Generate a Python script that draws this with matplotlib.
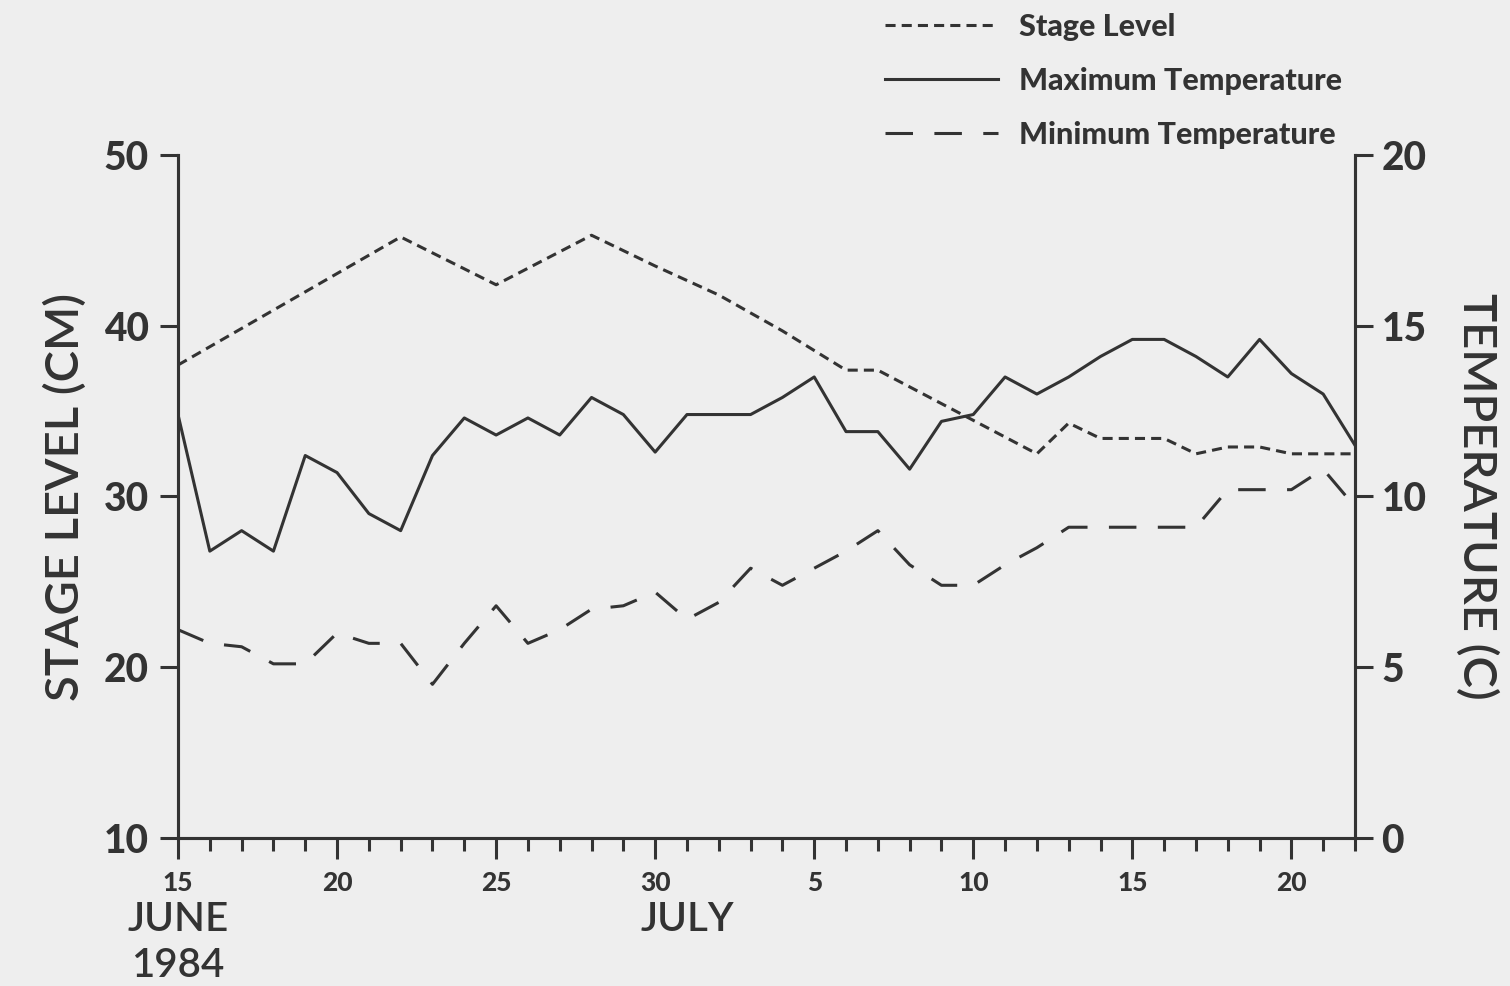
import numpy as np
import matplotlib
matplotlib.use("Agg")
import matplotlib.pyplot as plt
from matplotlib.ticker import MultipleLocator, FixedLocator

# days counted from 15 June 1984 (0) to 22 July 1984 (37)
days = np.arange(38)

# stage level readings (cm), taken on the days listed
stage_days = [0, 7, 10, 13, 15, 17, 19, 21, 22, 27, 28, 29, 31, 32, 33, 34, 35, 37]
stage_cm = [37.7, 45.2, 42.4, 45.3, 43.5, 41.8, 39.7, 37.4, 37.4, 32.5, 34.3,
            33.4, 33.4, 32.5, 32.9, 32.9, 32.5, 32.5]

# daily air temperatures (C)
max_temp = [12.4, 8.4, 9.0, 8.4, 11.2, 10.7, 9.5, 9.0, 11.2, 12.3, 11.8, 12.3, 11.8,
            12.9, 12.4, 11.3, 12.4, 12.4, 12.4, 12.9, 13.5, 11.9, 11.9, 10.8, 12.2,
            12.4, 13.5, 13.0, 13.5, 14.1, 14.6, 14.6, 14.1, 13.5, 14.6, 13.6, 13.0, 11.5]
min_temp = [6.1, 5.7, 5.6, 5.1, 5.1, 6.0, 5.7, 5.7, 4.5, 5.7, 6.8, 5.7, 6.1,
            6.7, 6.8, 7.2, 6.4, 6.9, 7.9, 7.4, 7.9, 8.4, 9.0, 8.0, 7.4,
            7.4, 8.0, 8.5, 9.1, 9.1, 9.1, 9.1, 9.1, 10.2, 10.2, 10.2, 10.8, 9.7]

tick_days = [0, 5, 10, 15, 20, 25, 30, 35]
tick_labels = ['15', '20', '25', '30', '5', '10', '15', '20']

ink = '#333333'
paper = '#eeeeee'
bold_font = ['Lato', 'DejaVu Sans']
label_font = ['Lato', 'DejaVu Sans']

fig = plt.figure(figsize=(15.1, 9.86), dpi=100, facecolor=paper)
ax = fig.add_axes([178 / 1510, 1 - 838 / 986, (1355 - 178) / 1510, (838 - 155) / 986])
ax.set_facecolor(paper)
ax2 = ax.twinx()

lw = 2.2
ax.plot(stage_days, stage_cm, color=ink, lw=lw, linestyle=(0, (3.3, 2.0)),
        label='Stage Level')
ax2.plot(days, max_temp, color=ink, lw=lw, linestyle='-',
         label='Maximum Temperature')
ax2.plot(days, min_temp, color=ink, lw=lw, linestyle=(0, (9, 7)),
         label='Minimum Temperature')

ax.set_xlim(0, 37)
ax.set_ylim(10, 50)
ax2.set_ylim(0, 20)

for a in (ax, ax2):
    a.spines['top'].set_visible(False)
    for s in a.spines.values():
        s.set_linewidth(2.2)
        s.set_color(ink)

ax.xaxis.set_major_locator(FixedLocator(tick_days))
ax.xaxis.set_minor_locator(MultipleLocator(1))
ax.set_xticklabels(tick_labels, fontfamily=bold_font, fontweight='black', fontsize=19)
ax.tick_params(axis='x', which='major', length=15, width=2.2, color=ink, pad=9,
               labelcolor=ink)
ax.tick_params(axis='x', which='minor', length=9, width=2.2, color=ink)

ax.yaxis.set_major_locator(MultipleLocator(10))
ax.tick_params(axis='y', length=13, width=2.2, color=ink, pad=8, labelcolor=ink)
for t in ax.get_yticklabels():
    t.set_fontfamily(bold_font)
    t.set_fontweight('black')
    t.set_fontsize(28)

ax2.yaxis.set_major_locator(MultipleLocator(5))
ax2.tick_params(axis='y', length=13, width=2.2, color=ink, pad=6, labelcolor=ink)
for t in ax2.get_yticklabels():
    t.set_fontfamily(bold_font)
    t.set_fontweight('black')
    t.set_fontsize(28)

ax.set_ylabel('STAGE LEVEL (CM)', fontfamily=label_font, fontweight='semibold',
              fontsize=34, color=ink, labelpad=12)
ax2.set_ylabel('TEMPERATURE (C)', fontfamily=label_font, fontweight='semibold',
               fontsize=34, color=ink, rotation=-90, labelpad=52)

# month / year captions under the date ticks
xt = ax.get_xaxis_transform()
cap = dict(transform=xt, ha='center', va='center', fontfamily=label_font,
           fontweight='semibold', fontsize=29, color=ink)
ax.text(0, -0.12, 'JUNE', **cap)
ax.text(0, -0.186, '1984', **cap)
ax.text(16, -0.12, 'JULY', **cap)

h1, l1 = ax.get_legend_handles_labels()
h2, l2 = ax2.get_legend_handles_labels()
fig.legend(h1 + h2, l1 + l2, loc='upper left',
           bbox_to_anchor=(885 / 1510, 1 - 13 / 986), frameon=False,
           prop={'family': bold_font, 'weight': 'black', 'size': 22},
           labelcolor=ink, handlelength=3.7, handletextpad=0.7,
           labelspacing=0.85, borderpad=0, borderaxespad=0)

fig.savefig('out.png', dpi=100, facecolor=paper)
